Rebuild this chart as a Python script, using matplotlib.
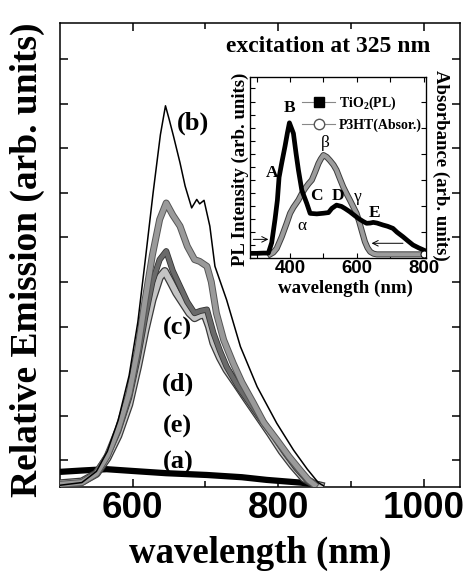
import matplotlib
matplotlib.use("Agg")
import matplotlib.pyplot as plt
import matplotlib.patheffects as pe
from matplotlib.lines import Line2D
import numpy as np

plt.rcParams['mathtext.fontset'] = 'custom'
plt.rcParams['mathtext.rm'] = 'Liberation Serif:bold'
plt.rcParams['mathtext.bf'] = 'Liberation Serif:bold'

SERIF = 'Liberation Serif'
SANS = 'Liberation Sans'

# ---------------- main-panel data ----------------
wl_a = [500, 530, 564, 600, 646, 702, 750, 784, 830, 857]
em_a = [0.34, 0.37, 0.40, 0.36, 0.31, 0.27, 0.22, 0.16, 0.10, 0.05]

wl_b = [500, 530, 550, 565, 580, 595, 607, 618, 628, 638, 645, 650, 656, 665, 672, 681,
        688, 692, 698, 706, 713, 729, 748, 771, 798, 821, 840, 855, 862]
em_b = [0.04, 0.10, 0.35, 0.80, 1.50, 2.50, 3.70, 5.20, 6.60, 7.90, 8.55, 8.25, 7.87, 7.27,
        6.75, 6.26, 6.45, 6.35, 6.43, 5.85, 4.95, 4.20, 3.15, 2.25, 1.43, 0.83, 0.40, 0.10, 0.03]

wl_c = [500, 530, 550, 565, 580, 595, 607, 617, 627, 637, 646, 655, 665, 675, 685, 692,
        702, 708, 715, 725, 738, 750, 766, 780, 798, 815, 830, 842, 850]
em_c = [0.06, 0.10, 0.30, 0.70, 1.30, 2.10, 3.10, 4.20, 5.20, 6.00, 6.37, 6.10, 5.85, 5.40,
        5.10, 5.06, 4.95, 4.60, 3.90, 3.30, 2.78, 2.35, 1.88, 1.45, 1.06, 0.68, 0.38, 0.15, 0.05]

wl_d = [500, 530, 550, 565, 580, 595, 607, 617, 627, 637, 646, 655, 665, 675, 685, 693,
        702, 711, 720, 729, 745, 761, 777, 794, 810, 825, 840, 850]
em_d = [0.06, 0.10, 0.30, 0.70, 1.25, 2.00, 2.90, 3.80, 4.60, 5.10, 5.29, 4.85, 4.50, 4.15,
        3.90, 3.95, 3.98, 3.45, 3.05, 2.70, 2.25, 1.88, 1.50, 1.13, 0.75, 0.42, 0.15, 0.05]

wl_e = [500, 530, 550, 565, 580, 595, 607, 617, 627, 637, 644, 652, 660, 670, 678, 685,
        692, 699, 705, 711, 720, 729, 743, 757, 773, 789, 805, 820, 835, 850, 858]
em_e = [0.08, 0.12, 0.30, 0.65, 1.15, 1.85, 2.70, 3.50, 4.20, 4.70, 4.84, 4.60, 4.35, 4.10,
        3.90, 3.79, 3.85, 3.87, 3.60, 3.23, 2.90, 2.63, 2.30, 1.96, 1.58, 1.20, 0.80, 0.48,
        0.20, 0.06, 0.03]

curve_labels = ['(a)', '(b)', '(c)', '(d)', '(e)']
label_wl = [662, 683, 662, 662, 662]
label_em = [0.55, 8.15, 3.55, 2.3, 1.36]

main_xticks = [600, 800, 1000]
main_xticklabels = ['600', '800', '1000']

# ---------------- inset data ----------------
wl_pl = [285, 300, 320, 335, 345, 355, 362, 367, 375, 385, 392, 398, 405, 410, 418, 425,
         435, 450, 460, 480, 500, 515, 525, 539, 554, 565, 579, 592, 604, 617, 629, 640,
         649, 660, 678, 692, 708, 720, 738, 752, 768, 785, 800]
pl = [0.38, 0.38, 0.40, 0.40, 1.20, 3.00, 4.46, 6.20, 7.30, 8.60, 9.60, 10.37, 9.90, 9.56,
      8.00, 6.75, 5.22, 4.20, 3.44, 3.40, 3.45, 3.50, 3.82, 4.07, 3.97, 3.80, 3.56, 3.30,
      3.06, 2.85, 2.68, 2.70, 2.75, 2.70, 2.55, 2.45, 2.29, 2.00, 1.65, 1.35, 1.02, 0.80, 0.63]

wl_abs = [340, 350, 360, 375, 390, 400, 410, 425, 435, 445, 455, 465, 475, 485, 492, 500,
          510, 519, 530, 539, 549, 559, 569, 579, 589, 599, 607, 614, 624, 632, 640, 650,
          660, 700, 750, 800]
absb = [0.30, 0.45, 0.76, 1.65, 2.70, 3.44, 3.90, 4.46, 4.95, 5.35, 5.70, 5.99, 6.60, 7.26,
        7.60, 7.90, 7.75, 7.50, 7.15, 6.75, 6.10, 5.47, 4.95, 4.46, 3.95, 3.44, 2.80, 2.16,
        1.27, 0.80, 0.50, 0.35, 0.30, 0.30, 0.30, 0.30]

peak_letters = ['A', 'B', 'C', 'D', 'E', 'α', 'β', 'γ']
peak_wl = [347, 398, 478, 544, 654, 435, 504, 602]
peak_y = [6.5, 11.5, 4.76, 4.76, 3.44, 2.5, 8.84, 4.71]

inset_xticks = [400, 600, 800]

# ---------------- figure ----------------
fig = plt.figure(figsize=(4.66, 5.78), dpi=100)
ax = fig.add_axes([0.1288, 0.1574, 0.8584, 0.8023])

ax.plot(wl_a, em_a, color='black', lw=4.5, solid_capstyle='butt', zorder=3)
ax.plot(wl_e, em_e, color='#c4c4c4', lw=4.2, zorder=4,
        path_effects=[pe.Stroke(linewidth=6.0, foreground='#3a3a3a'), pe.Normal()])
ax.plot(wl_d, em_d, color='#6a6a6a', lw=3.2, zorder=5,
        path_effects=[pe.Stroke(linewidth=4.4, foreground='#333333'), pe.Normal()])
ax.plot(wl_c, em_c, color='#9a9a9a', lw=3.6, zorder=6,
        path_effects=[pe.Stroke(linewidth=5.0, foreground='#555555'), pe.Normal()])
ax.plot(wl_b, em_b, color='black', lw=1.1, zorder=7)

for t, x, y in zip(curve_labels, label_wl, label_em):
    ax.text(x, y, t, fontsize=19, fontweight='bold', family=SERIF,
            ha='center', va='center', zorder=8)

ax.set_xlim(500, 1050)
ax.set_ylim(0, 10.4)
ax.set_xticks(main_xticks)
ax.set_xticklabels(main_xticklabels)
ax.set_xticks([700, 900], minor=True)
ax.set_yticks([0.6 + k for k in range(10)])
ax.set_yticklabels([])
ax.tick_params(which='both', direction='in', top=True, right=True, width=1.1)
ax.tick_params(which='major', length=6)
ax.tick_params(which='minor', length=4)
ax.tick_params(axis='x', labelsize=26.5, pad=3)
for lab in ax.get_xticklabels():
    lab.set_fontfamily(SANS)
    lab.set_fontweight('bold')
for s in ax.spines.values():
    s.set_linewidth(1.1)

ax.set_xlabel('wavelength (nm)', fontsize=26.5, fontweight='bold', family=SERIF)
ax.xaxis.set_label_coords(0.5, -0.105)
ax.set_ylabel('Relative Emission (arb. units)', fontsize=27, fontweight='bold', family=SERIF)
ax.yaxis.set_label_coords(-0.037, 0.49)

fig.text(328 / 466, 1 - 47 / 578, 'excitation at 325 nm', fontsize=17, fontweight='bold',
         family=SERIF, ha='center', va='center')

# ---------------- inset ----------------
axi = fig.add_axes([0.5365, 0.5531, 0.3777, 0.3142])
axi.plot(wl_abs, absb, color='#9c9c9c', lw=3.0, zorder=3,
         path_effects=[pe.Stroke(linewidth=4.4, foreground='#3c3c3c'), pe.Normal()])
axi.plot(wl_pl, pl, color='black', lw=3.4, zorder=4, solid_joinstyle='round')
axi.plot([wl_abs[-1]], [absb[-1]], 'o', ms=5, mfc='white', mec='black', mew=0.7, zorder=5)

axi.annotate('', xy=(335, 1.45), xytext=(290, 1.45),
             arrowprops=dict(arrowstyle='->', lw=0.7, color='black', shrinkA=0, shrinkB=0))
axi.annotate('', xy=(644, 1.15), xytext=(738, 1.15),
             arrowprops=dict(arrowstyle='->', lw=0.7, color='black', shrinkA=0, shrinkB=0))

for t, x, y in zip(peak_letters, peak_wl, peak_y):
    greek = t in 'αβγ'
    axi.text(x, y, t, fontsize=12.5, fontweight='normal' if greek else 'bold', family=SERIF,
             ha='center', va='center', zorder=6)

axi.set_xlim(280, 807)
axi.set_ylim(0, 13.9)
axi.set_xticks(inset_xticks)
axi.set_xticklabels([str(v) for v in inset_xticks])
axi.set_xticks([300, 500, 700], minor=True)
axi.set_yticks(range(0, 14))
axi.set_yticklabels([])
axi.tick_params(which='both', direction='in', top=True, right=False, width=0.8, length=3.5)
axi.tick_params(axis='x', labelsize=13.4, pad=1.5)
for lab in axi.get_xticklabels():
    lab.set_fontfamily(SANS)
    lab.set_fontweight('bold')
for s in axi.spines.values():
    s.set_linewidth(0.9)

axr = axi.twinx()
axr.set_ylim(0, 13.9)
axr.set_yticks(range(0, 14, 2))
axr.set_yticklabels([])
axr.tick_params(direction='in', width=0.8, length=3.5)
axr.set_ylabel('Absorbance (arb. units)', fontsize=13.5, fontweight='bold', family=SERIF,
               rotation=270, va='center')
axr.yaxis.set_label_coords(1.085, 0.51)

axi.set_xlabel('wavelength (nm)', fontsize=13.6, fontweight='bold', family=SERIF)
axi.xaxis.set_label_coords(0.545, -0.115)
axi.set_ylabel('PL Intensity (arb. units)', fontsize=13.5, fontweight='bold', family=SERIF,
               va='center')
axi.yaxis.set_label_coords(-0.055, 0.49)

handles = [Line2D([], [], color='#888888', lw=0.8, marker='s', ms=7.5, mfc='black', mec='black'),
           Line2D([], [], color='#888888', lw=0.8, marker='o', ms=7.5, mfc='white', mec='#555555')]
leg = axi.legend(handles, ['TiO$_2$(PL)', 'P3HT(Absor.)'], loc='upper left',
                 bbox_to_anchor=(0.256, 0.94), frameon=False, borderpad=0,
                 handlelength=2.4, handletextpad=0.25, labelspacing=0.45,
                 prop={'family': SERIF, 'weight': 'bold', 'size': 10})

fig.savefig('out.png', dpi=100)
